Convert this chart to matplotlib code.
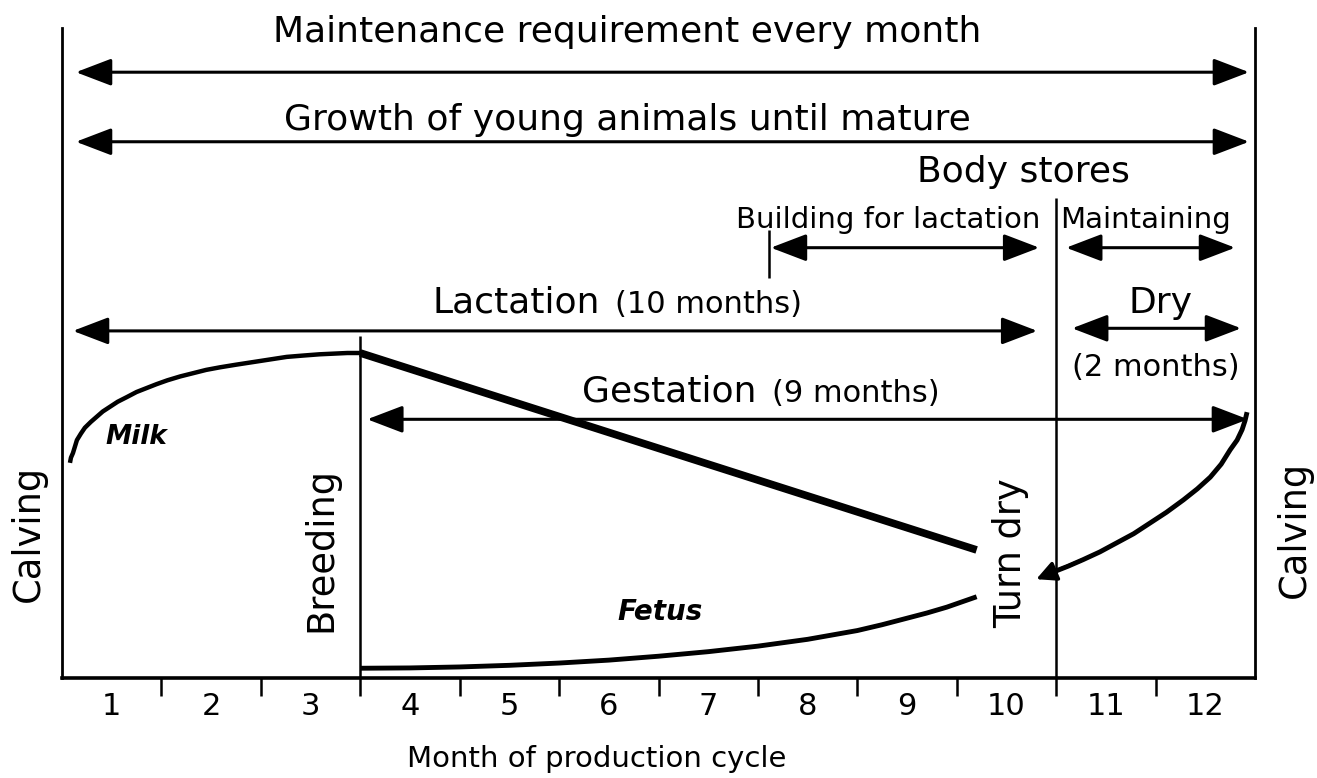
import matplotlib
matplotlib.use("Agg")
import matplotlib.pyplot as plt

plt.rcParams['font.family'] = ['DejaVu Sans']

# Months of the production cycle
month_edges = list(range(1, 12))
month_labels = [str(i) for i in range(1, 13)]

# Key events (month position)
breeding_month = 3.0
turn_dry_month = 10.0
building_start_month = 7.11

# Milk yield (relative level)
milk_rise_month = [0.08, 0.09, 0.11, 0.13, 0.15, 0.19, 0.23, 0.29, 0.35, 0.41,
                   0.48, 0.56, 0.65, 0.75, 0.85, 0.95, 1.06, 1.19, 1.32, 1.45,
                   1.59, 1.75, 1.92, 2.09, 2.26, 2.42, 2.59, 2.73, 2.87, 3.0]
milk_rise_level = [33.1, 33.9, 34.6, 35.6, 36.6, 37.6, 38.5, 39.4, 40.2, 41.0,
                   41.7, 42.5, 43.2, 44.0, 44.6, 45.2, 45.8, 46.4, 46.9, 47.4,
                   47.8, 48.2, 48.6, 49.0, 49.4, 49.6, 49.8, 49.9, 50.0, 50.0]
milk_decline_month = [3.0, 9.2]
milk_decline_level = [50.0, 19.7]

# Fetus growth (relative level)
fetus_month = [3.0, 3.5, 4.0, 4.5, 5.0, 5.5, 6.0, 6.5, 7.0, 7.5, 8.0, 8.25,
               8.5, 8.7, 8.9, 9.05, 9.2]
fetus_level = [1.5, 1.55, 1.7, 1.95, 2.3, 2.75, 3.35, 4.05, 4.9, 5.95, 7.3,
               8.2, 9.2, 10.0, 10.9, 11.7, 12.5]
fetus_dry_month = [9.97, 10.12, 10.27, 10.44, 10.61, 10.78, 10.94, 11.11,
                   11.28, 11.42, 11.55, 11.66, 11.75, 11.82, 11.87, 11.90, 11.92]
fetus_dry_level = [16.3, 17.2, 18.2, 19.4, 20.8, 22.2, 23.8, 25.5, 27.4, 29.1,
                   30.9, 32.9, 35.1, 36.6, 38.2, 39.6, 40.9]

# Requirement spans
span_start = [0.14, 0.14, 7.13, 10.10, 0.11, 10.16, 3.07]
span_end = [11.94, 11.94, 9.83, 11.80, 9.81, 11.86, 11.93]
span_level = [93.2, 82.5, 66.2, 66.2, 53.4, 53.8, 39.8]

fig = plt.figure(figsize=(13.17, 7.78), dpi=100)
ax = fig.add_axes([62 / 1317, 1 - 678 / 778, 1193 / 1317, 650 / 778])
ax.set_xlim(0, 12)
ax.set_ylim(0, 100)

for side in ('left', 'right'):
    ax.spines[side].set_linewidth(2.0)
ax.spines['bottom'].set_linewidth(2.6)
ax.spines['top'].set_visible(False)

ax.set_yticks([])
ax.set_xticks(month_edges)
ax.set_xticklabels([])
ax.set_xticks([m - 0.5 for m in range(1, 13)], minor=True)
ax.set_xticklabels(month_labels, minor=True)
ax.tick_params(axis='x', which='major', direction='out', length=13, width=1.8)
ax.tick_params(axis='x', which='minor', length=0, pad=10, labelsize=22)
ax.set_xlabel('Month of production cycle', fontsize=21)
ax.xaxis.set_label_coords(0.448, -0.103)

# Event lines
ax.vlines(breeding_month, 0, 52.6, color='black', lw=1.8)
ax.vlines(turn_dry_month, 0, 73.8, color='black', lw=1.8)
ax.vlines(building_start_month, 61.5, 68.9, color='black', lw=1.8)

# Span arrows
arrow_style = '<|-|>,head_length=1.1,head_width=0.42'
for s, e, lv in zip(span_start, span_end, span_level):
    ax.annotate('', xy=(e, lv), xytext=(s, lv),
                arrowprops=dict(arrowstyle=arrow_style, mutation_scale=20,
                                lw=2.2, color='black', shrinkA=0, shrinkB=0))

# Curves
ax.plot(milk_rise_month, milk_rise_level, color='black', lw=3.2,
        solid_capstyle='butt', solid_joinstyle='round')
ax.plot(milk_decline_month, milk_decline_level, color='black', lw=5.5,
        solid_capstyle='butt')
ax.plot(fetus_month, fetus_level, color='black', lw=3.5, solid_capstyle='butt',
        solid_joinstyle='round')
ax.plot(fetus_dry_month, fetus_dry_level, color='black', lw=3.5,
        solid_capstyle='butt', solid_joinstyle='round')
ax.annotate('', xy=(9.80, 15.2), xytext=(fetus_dry_month[2], fetus_dry_level[2]),
            arrowprops=dict(arrowstyle='-|>,head_length=0.6,head_width=0.3',
                            mutation_scale=20, lw=2.5, color='black',
                            shrinkA=0, shrinkB=0))

# Span labels
main_fs = 26
sub_fs = 22
ax.text(5.69, 97.8, 'Maintenance requirement every month', ha='center',
        va='baseline', fontsize=main_fs)
ax.text(5.69, 84.3, 'Growth of young animals until mature', ha='center',
        va='baseline', fontsize=main_fs)
ax.text(9.67, 76.3, 'Body stores', ha='center', va='baseline', fontsize=main_fs)
ax.text(8.31, 69.2, 'Building for lactation', ha='center', va='baseline',
        fontsize=21)
ax.text(10.9, 69.2, 'Maintaining', ha='center', va='baseline', fontsize=21)
ax.text(5.41, 56.2, 'Lactation', ha='right', va='baseline', fontsize=main_fs)
ax.text(5.56, 56.2, '(10 months)', ha='left', va='baseline', fontsize=sub_fs)
ax.text(11.05, 56.2, 'Dry', ha='center', va='baseline', fontsize=main_fs)
ax.text(11.0, 46.5, '(2 months)', ha='center', va='baseline', fontsize=sub_fs)
ax.text(6.99, 42.5, 'Gestation', ha='right', va='baseline', fontsize=main_fs)
ax.text(7.14, 42.5, '(9 months)', ha='left', va='baseline', fontsize=sub_fs)

# Curve labels
ax.text(0.75, 37.1, 'Milk', ha='center', va='center', fontsize=19,
        fontweight='bold', fontstyle='italic')
ax.text(6.02, 10.2, 'Fetus', ha='center', va='center', fontsize=20,
        fontweight='bold', fontstyle='italic')

# Event labels
ax.text(-0.34, 22.3, 'Calving', rotation=90, ha='center', va='center',
        fontsize=26.5)
ax.text(12.40, 22.8, 'Calving', rotation=90, ha='center', va='center',
        fontsize=26.5)
ax.text(2.60, 19.7, 'Breeding', rotation=90, ha='center', va='center',
        fontsize=26.5)
ax.text(9.54, 19.2, 'Turn dry', rotation=90, ha='center', va='center',
        fontsize=26.5)

fig.savefig('out.png', dpi=100)
